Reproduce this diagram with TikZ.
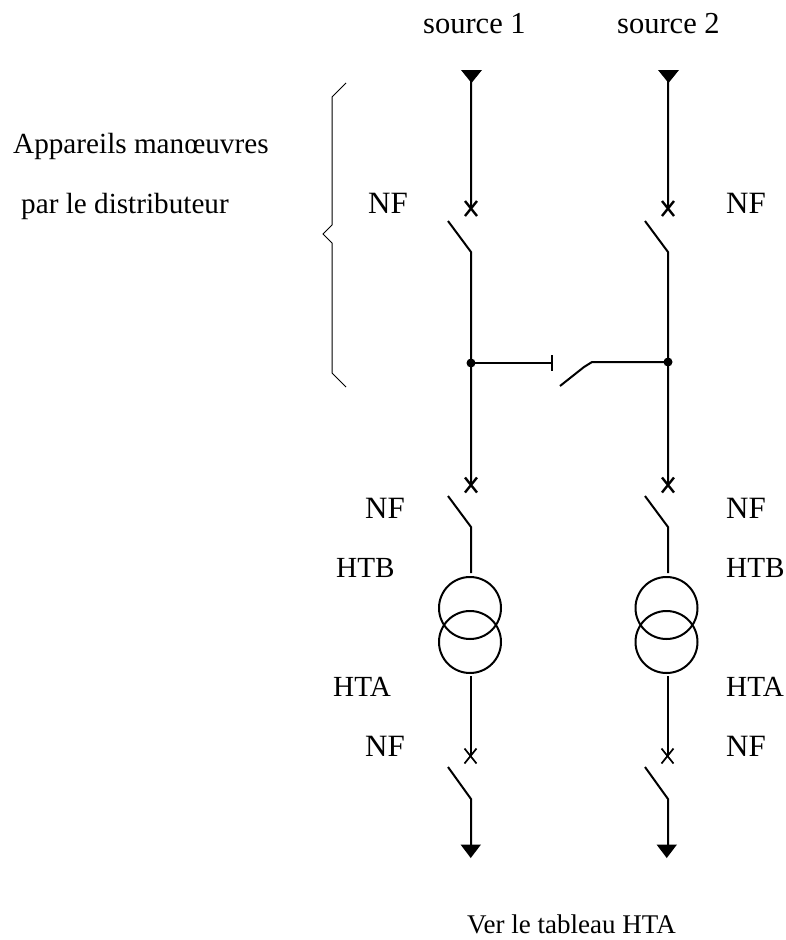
\documentclass[tikz,border=0pt]{standalone}
\usepackage{fontspec}
\setmainfont{Liberation Serif}
\tikzset{
  px/.style={x=1pt,y=-1pt},
  wire/.style={line width=2pt,black},
  crossw/.style={line width=2.4pt,black},
  thinwire/.style={line width=1.5pt,black},
  thincross/.style={line width=1.7pt,black},
  bracew/.style={line width=1pt,black,line join=miter},
  tri/.style={fill=black,draw=none},
  dot/.style={circle,fill=black,draw=none,inner sep=0pt,minimum size=9pt},
  winding/.style={circle,draw=black,line width=2pt,inner sep=0pt,minimum size=62pt,fill=none},
  lbl/.style={font=\fontsize{29.2}{33}\selectfont,inner sep=0pt,anchor=base west,text=black},
  lblnf/.style={font=\fontsize{31}{35}\selectfont,inner sep=0pt,anchor=base west,text=black},
  lblsrc/.style={font=\fontsize{30.5}{35}\selectfont,inner sep=0pt,anchor=base west,text=black},
  lbls/.style={font=\fontsize{27}{31}\selectfont,inner sep=0pt,anchor=base west,text=black}
}
\newcommand{\xmark}[3]{\draw[#3] (#1-6,#2-7.5) -- (#1+6,#2+7.5) (#1+6,#2-7.5) -- (#1-6,#2+7.5);}
\begin{document}
\begin{tikzpicture}[px]
\useasboundingbox (0,0) rectangle (786,940);
% text
\node[lblsrc] (s1) at (423,33) {source 1};
\node[lblsrc] (s2) at (617,33) {source 2};
\node[lbl] (app) at (13,153) {Appareils manœuvres};
\node[lbl] (dist) at (21,213) {par le distributeur};
\node[lblnf] (nf1) at (368,213) {NF};
\node[lblnf] (nf2) at (726,213) {NF};
\node[lblnf] (nf3) at (365,518) {NF};
\node[lblnf] (nf4) at (726,518) {NF};
\node[lbl] (htb1) at (336,577) {HTB};
\node[lbl] (htb2) at (726,577) {HTB};
\node[lbl] (hta1) at (333,696) {HTA};
\node[lbl] (hta2) at (726,696) {HTA};
\node[lblnf] (nf5) at (365,756) {NF};
\node[lblnf] (nf6) at (726,756) {NF};
\node[lbls] (tab) at (467,933) {Ver le tableau HTA};
% left feeder
\coordinate (La) at (471,81);
\coordinate (Lb) at (471,208);
\coordinate (Lc) at (448,221);
\coordinate (Ld) at (471,252);
\node[dot] (Lj) at (471,363) {};
\coordinate (Le) at (471,485);
\coordinate (Lf) at (448,496);
\coordinate (Lg) at (471,527);
\coordinate (Lh) at (471,573);
\node[winding] (Lt1) at (470,608) {};
\node[winding] (Lt2) at (470,642) {};
\coordinate (Li) at (471,676);
\coordinate (Lk) at (471,756);
\coordinate (Ll) at (448,767);
\coordinate (Lm) at (471,799);
\coordinate (Ln) at (471,847);
% right feeder
\coordinate (Ra) at (668,81);
\coordinate (Rb) at (668,208);
\coordinate (Rc) at (645,221);
\coordinate (Rd) at (668,252);
\node[dot] (Rj) at (668,362) {};
\coordinate (Re) at (668,485);
\coordinate (Rf) at (645,496);
\coordinate (Rg) at (668,527);
\coordinate (Rh) at (668,573);
\node[winding] (Rt1) at (666.5,608) {};
\node[winding] (Rt2) at (666.5,642) {};
\coordinate (Ri) at (668,676);
\coordinate (Rk) at (668,756);
\coordinate (Rl) at (645,767);
\coordinate (Rm) at (668,799);
\coordinate (Rn) at (668,847);
% wires
\draw[wire] (La) -- (Lb) (Lc) -- (Ld) -- (Lj.center) -- (Le) (Lf) -- (Lg) -- (Lh);
\draw[wire] (Ra) -- (Rb) (Rc) -- (Rd) -- (Rj.center) -- (Re) (Rf) -- (Rg) -- (Rh);
\draw[thinwire] (Li) -- (Lk) (Ri) -- (Rk);
\draw[wire] (Ll) -- (Lm) -- (Ln) (Rl) -- (Rm) -- (Rn);
% coupling
\coordinate (Cbar) at (552,363);
\coordinate (Ctop) at (552,355);
\coordinate (Cbot) at (552,371);
\coordinate (Cs1) at (592,362);
\coordinate (Cs2) at (584,367);
\coordinate (Cs3) at (560,386);
\draw[wire] (Lj.center) -- (Cbar) (Ctop) -- (Cbot);
\draw[wire] (Rj.center) -- (Cs1) -- (Cs2) -- (Cs3);
% crosses
\xmark{471}{208.5}{crossw}
\xmark{471}{485}{crossw}
\xmark{470.5}{756}{thincross}
\xmark{668}{208.5}{crossw}
\xmark{668}{485}{crossw}
\xmark{667.5}{756}{thincross}
% triangles
\fill[tri] (461,70) -- (482,70) -- (471.5,83) -- cycle;
\fill[tri] (658,70) -- (679,70) -- (668.5,83) -- cycle;
\fill[tri] (460.5,844.5) -- (481,844.5) -- (470.75,858) -- cycle;
\fill[tri] (656.5,844.5) -- (677,844.5) -- (666.75,858) -- cycle;
% brace
\draw[bracew] (346,83) -- (332,97) -- (332,225) -- (323,234) -- (332,243) -- (332,373) -- (346,387);
\end{tikzpicture}
\end{document}
